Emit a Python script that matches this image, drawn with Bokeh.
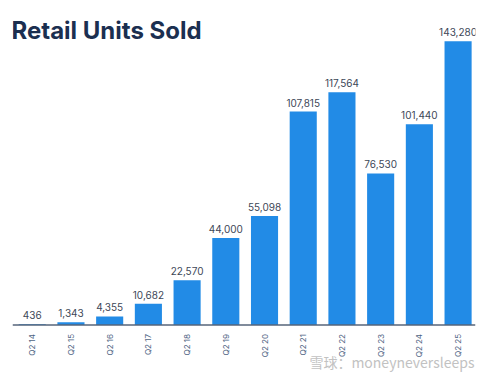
import math
from bokeh.plotting import figure
from bokeh.models import ColumnDataSource, Range1d, Label, Span
from bokeh.core.properties import value
from bokeh.embed import file_html
from bokeh.resources import INLINE

categories = ["Q2 14", "Q2 15", "Q2 16", "Q2 17", "Q2 18", "Q2 19",
              "Q2 20", "Q2 21", "Q2 22", "Q2 23", "Q2 24", "Q2 25"]
units_sold = [436, 1343, 4355, 10682, 22570, 44000,
              55098, 107815, 117564, 76530, 101440, 143280]
title_text = "Retail Units Sold"
watermark_text = "雪球：moneyneversleeps"

xs = list(range(len(categories)))
source = ColumnDataSource(dict(
    x=xs,
    top=units_sold,
    label=[f"{v:,}" for v in units_sold],
    cat=categories,
    zero=[0] * len(categories),
))

p = figure(width=497, height=372, output_backend="svg", toolbar_location=None,
           x_range=Range1d(-0.51, 11.45), y_range=Range1d(-23990, 163890),
           min_border_left=12, min_border_right=22, min_border_top=0,
           min_border_bottom=0, x_axis_location=None, y_axis_location=None)
p.outline_line_color = None
p.xgrid.visible = False
p.ygrid.visible = False
p.background_fill_color = "white"
p.border_fill_color = "white"

p.vbar(x="x", top="top", width=0.70, bottom=0, source=source,
       fill_color="#228BE6", line_color=None)

# value labels above bars
p.text(x="x", y="top", text="label", source=source,
       text_align="center", text_baseline="bottom", y_offset=-5,
       text_font=value("Inter"), text_font_size="10px", text_color="#3d4757")

# baseline (category axis line)
p.add_layout(Span(location=0, dimension="width", line_color="#56657a",
                  line_width=1.5))

# category tick labels, rotated to read bottom-to-top
p.text(x="x", y="zero", text="cat", source=source, angle=math.pi / 2,
       text_align="right", text_baseline="middle", y_offset=9,
       text_font=value("Inter"), text_font_size="8px", text_color="#4f6584")

title = Label(x=-1, y=342, x_units="screen", y_units="screen", text=title_text,
              text_font="Inter", text_font_size="24px", text_font_style="bold",
              text_color="#1b2f50", text_baseline="alphabetic")
p.add_layout(title)

wm = Label(x=462, y=11, x_units="screen", y_units="screen", text=watermark_text,
           text_font="Noto Sans CJK SC", text_font_size="14px",
           text_color="#c2c2c2", text_baseline="alphabetic", text_align="right")
p.add_layout(wm)

open("out.html", "w").write(file_html(p, INLINE))
